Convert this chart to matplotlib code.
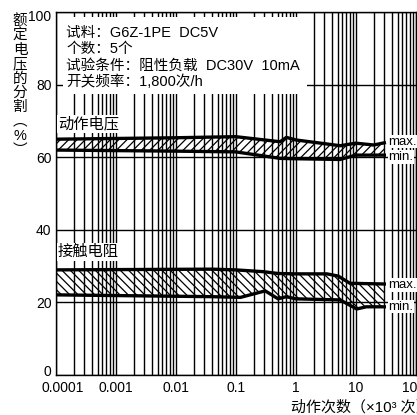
import matplotlib
matplotlib.use("Agg")
import matplotlib.pyplot as plt
from matplotlib.ticker import LogLocator, FixedLocator, FixedFormatter, NullFormatter
from matplotlib.patches import Rectangle
from matplotlib.transforms import ScaledTranslation
import numpy as np

plt.rcParams['font.family'] = ['Liberation Sans', 'Noto Sans CJK SC', 'DejaVu Sans']
plt.rcParams['hatch.linewidth'] = 0.9

# ---- data ----
x_ticks = [0.0001, 0.001, 0.01, 0.1, 1, 10, 100]
x_ticklabels = ['0.0001', '0.001', '0.01', '0.1', '1', '10', '100']
y_ticks = [0, 20, 40, 60, 80, 100]
y_ticklabels = ['0', '20', '40', '60', '80', '100']

# 动作电压 (operate voltage)
op_max_x = [0.0001, 0.01, 0.1, 0.55, 0.7, 1.0, 5.5, 10, 20, 30]
op_max_y = [65.0, 65.4, 65.7, 64.3, 65.5, 64.8, 63.2, 63.9, 63.4, 64.0]
op_min_x = [0.0001, 0.01, 0.1, 0.55, 1.0, 5.5, 10, 30]
op_min_y = [62.0, 61.7, 61.5, 59.7, 59.6, 59.4, 60.6, 60.6]

# 接触电阻
cr_max_x = [0.0001, 0.04, 0.1, 0.29, 0.51, 1.0, 3.3, 5.1, 8.0, 30]
cr_max_y = [28.9, 29.1, 28.9, 28.4, 27.9, 27.8, 27.8, 27.2, 25.2, 25.0]
cr_min_x = [0.0001, 0.04, 0.12, 0.31, 0.51, 0.70, 1.0, 5.5, 10.4, 15, 30]
cr_min_y = [22.0, 21.5, 21.3, 23.1, 20.9, 21.5, 20.9, 20.6, 18.1, 18.7, 18.7]

info_lines = ['试料：G6Z-1PE  DC5V',
              '个数：5个',
              '试验条件：阻性负载  DC30V  10mA',
              '开关频率：1,800次/h']

W, H = 417, 415
fig = plt.figure(figsize=(W / 100, H / 100), dpi=100)
L, R, T, B = 55.7, 415.7, 12.5, 374.5
ax = fig.add_axes([L / W, 1 - B / H, (R - L) / W, (B - T) / H])
ax.set_xscale('log')
ax.set_xlim(0.0001, 100)
ax.set_ylim(0, 100)
ax.set_axisbelow(True)

ax.xaxis.set_major_locator(FixedLocator(x_ticks))
ax.xaxis.set_major_formatter(FixedFormatter(x_ticklabels))
ax.xaxis.set_minor_locator(LogLocator(base=10, subs=np.arange(2, 10), numticks=30))
ax.xaxis.set_minor_formatter(NullFormatter())
ax.yaxis.set_major_locator(FixedLocator(y_ticks))
ax.yaxis.set_major_formatter(FixedFormatter(y_ticklabels))
ax.tick_params(which='both', length=0, labelsize=10, colors='black')
ax.tick_params(axis='x', pad=4.5)
ax.tick_params(axis='y', pad=3)
ax.grid(True, which='both', axis='x', color='black', lw=1.0)
ax.grid(True, which='major', axis='y', color='black', lw=1.0)
for s in ax.spines.values():
    s.set_linewidth(1.0)

# small offsets of individual tick labels (as in the reference)
def shift(lbl, dx_px, dy_px):
    lbl.set_transform(lbl.get_transform() +
                      ScaledTranslation(dx_px / 100, dy_px / 100, fig.dpi_scale_trans))

xt = ax.xaxis.get_major_ticks()
shift(xt[0].label1, 7, 0)
shift(xt[-1].label1, -2, 0)
yt = ax.yaxis.get_major_ticks()
shift(yt[0].label1, 0, 4.5)
shift(yt[-1].label1, 0, -3)

# bands
def band(xu, yu, xl, yl, hatch):
    px = list(xu) + list(xl)[::-1]
    py = list(yu) + list(yl)[::-1]
    ax.fill(px, py, facecolor='none', edgecolor='black', linewidth=0,
            hatch=hatch, zorder=2)
    ax.plot(xu, yu, color='black', lw=2.4, zorder=3)
    ax.plot(xl, yl, color='black', lw=2.4, zorder=3)

band(op_max_x, op_max_y, op_min_x, op_min_y, '////')
band(cr_max_x, cr_max_y, cr_min_x, cr_min_y, '\\\\\\\\')

# info box
ax.add_patch(Rectangle(((63 - L) / (R - L), (B - 94) / (B - T)),
                       (307 - 63) / (R - L), (94 - 17) / (B - T),
                       transform=ax.transAxes, facecolor='white',
                       edgecolor='none', zorder=2.5))
for i, t in enumerate(info_lines):
    ypix = 32.7 + i * 16.4
    ax.text((66 - L) / (R - L), (B - ypix) / (B - T), t, transform=ax.transAxes,
            fontsize=10.5, va='center', ha='left', zorder=4)

lbl_bbox = dict(facecolor='white', edgecolor='none', pad=1.0)
ax.text((58 - L) / (R - L), (B - 124) / (B - T), '动作电压', transform=ax.transAxes,
        fontsize=11, va='center', ha='left', bbox=lbl_bbox, zorder=4)
ax.text((58 - L) / (R - L), (B - 252) / (B - T), '接触电阻', transform=ax.transAxes,
        fontsize=11, va='center', ha='left', bbox=lbl_bbox, zorder=4)

mm_bbox = dict(facecolor='white', edgecolor='none', pad=0.5)
for txt, ypix in [('max.', 141.7), ('min.', 157.0), ('max.', 285.0), ('min.', 306.7)]:
    ax.text((388.5 - L) / (R - L), (B - ypix) / (B - T), txt, transform=ax.transAxes,
            fontsize=9.5, va='center', ha='left', bbox=mm_bbox, zorder=4)

# y label (vertical)
ychars = ['额', '定', '电', '压', '的', '分', '割', '︵', '%', '︶']
fig.text(20 / W, 1 - 14 / H, '\n'.join(ychars), ha='center', va='top',
         fontsize=10.5, linespacing=1.035)

# x label
fig.text(291 / W, 1 - 407 / H, '动作次数（×10³ 次）', ha='left', va='center', fontsize=10.8)

fig.savefig('out.png', dpi=100)
